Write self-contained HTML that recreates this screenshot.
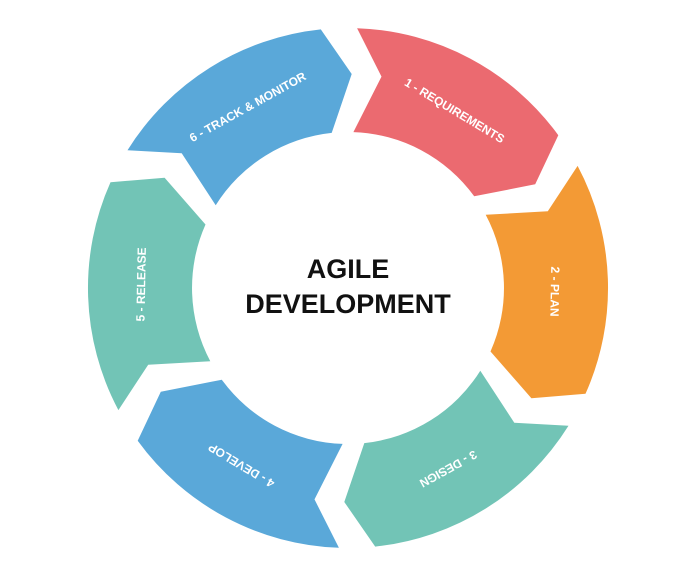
<!DOCTYPE html>
<html><head><meta charset="utf-8"><style>
html,body{margin:0;padding:0;background:#fff;width:700px;height:570px;overflow:hidden}
svg{display:block}
.l{font-family:"Liberation Sans",sans-serif;font-weight:bold;font-size:12px;fill:#fff;text-anchor:middle;dominant-baseline:middle}
.c{font-family:"Liberation Sans",sans-serif;font-weight:bold;font-size:27px;fill:#111;text-anchor:middle}
</style></head><body>
<svg id="s" width="700" height="570" viewBox="0 0 700 570">
<g id="segs"></g>
<text class="l" x="348" y="82" transform="rotate(31 348 288)">1 - REQUIREMENTS</text>
<text class="l" x="348" y="82" transform="rotate(91 348 288)">2 - PLAN</text>
<text class="l" x="348" y="82" transform="rotate(151 348 288)">3 - DESIGN</text>
<text class="l" x="348" y="82" transform="rotate(211 348 288)">4 - DEVELOP</text>
<text class="l" x="348" y="82" transform="rotate(271 348 288)">5 - RELEASE</text>
<text class="l" x="348" y="82" transform="rotate(331 348 288)">6 - TRACK &amp; MONITOR</text>
<text class="c" x="348" y="278">AGILE</text>
<text class="c" x="348" y="313">DEVELOPMENT</text>
</svg>
<script>
var cx=348,cy=288,R=260,r=156,rm=214,d=7,span=52;
var cols=["#EB6A70","#F39A35","#72C4B6","#5AA8D9","#72C4B6","#5AA8D9"];
function p(rad,a){a=a*Math.PI/180;return (cx+rad*Math.sin(a)).toFixed(1)+","+(cy-rad*Math.cos(a)).toFixed(1);}
var g=document.getElementById("segs"),h="";
for(var i=0;i<6;i++){
 var a1=2+60*i,a2=a1+span;
 var dd="M"+p(R,a1)+" A"+R+","+R+" 0 0 1 "+p(R,a2)+" L"+p(rm,a2+d)+" L"+p(r,a2)+
   " A"+r+","+r+" 0 0 0 "+p(r,a1)+" L"+p(rm,a1+d)+" Z";
 h+='<path d="'+dd+'" fill="'+cols[i]+'"/>';
}
g.innerHTML=h;
</script>
</body></html>
